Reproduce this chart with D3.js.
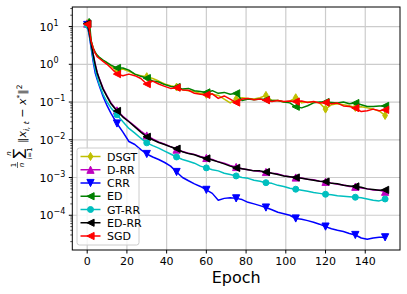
<!DOCTYPE html>
<html>
<head>
<meta charset="utf-8">
<script src="https://cdn.jsdelivr.net/npm/d3@7"></script>
<style>
  body { margin: 0; background: #fff; }
  svg { font-family: "DejaVu Sans", sans-serif; }
</style>
</head>
<body>
<svg id="chart" width="407" height="294"></svg>
<script>
var epochs = [0, 1, 2, 3, 4, 5, 6, 8, 10, 12, 15, 18, 21, 24, 27, 30, 33, 36, 39, 42, 45, 48, 51, 54, 57, 60,
  63, 66, 69, 72, 75, 78, 81, 84, 87, 90, 93, 96, 99, 102, 105, 108, 111, 114, 117, 120, 123, 126, 129, 132,
  135, 138, 141, 144, 147, 150];
var markerEpochs = [0, 15, 30, 45, 60, 75, 90, 105, 120, 135, 150];

var dsgt = [12, 9, 4, 2.6, 2.0, 1.7, 1.5, 1.25, 1.1, 0.9, 0.7, 0.75, 0.65, 0.55, 0.5, 0.47, 0.42, 0.36, 0.3, 0.27,
  0.25, 0.21, 0.2, 0.19, 0.17, 0.16, 0.16, 0.15, 0.12, 0.095, 0.12, 0.13, 0.125, 0.12, 0.13, 0.15, 0.11, 0.11,
  0.1, 0.105, 0.13, 0.095, 0.1, 0.1, 0.095, 0.065, 0.085, 0.09, 0.085, 0.08, 0.072, 0.075, 0.07, 0.065, 0.058, 0.044];
var drr = [12, 7.2, 3.6, 1.85, 1.02, 0.62, 0.43, 0.23, 0.145, 0.095, 0.06, 0.042, 0.031, 0.023, 0.017, 0.013,
  0.0105, 0.0088, 0.0076, 0.0066, 0.0055, 0.0049, 0.0044, 0.0041, 0.0036, 0.0033, 0.003, 0.0026, 0.0024, 0.0021,
  0.0019, 0.0017, 0.0016, 0.0015, 0.00145, 0.0014, 0.0013, 0.00125, 0.00112, 0.00105, 0.001, 0.00097, 0.0009,
  0.00087, 0.0008, 0.00077, 0.00071, 0.00066, 0.00063, 0.00058, 0.00057, 0.00053, 0.0005, 0.00047, 0.00046, 0.00042];
var crr = [11, 6, 2.7, 1.2, 0.6, 0.4, 0.28, 0.14, 0.08, 0.05, 0.027, 0.016, 0.009, 0.0075, 0.0055, 0.0042,
  0.0035, 0.003, 0.0025, 0.002, 0.0014, 0.001, 0.00082, 0.00068, 0.00058, 0.00047, 0.00038, 0.00025, 0.00028,
  0.00029, 0.00028, 0.00026, 0.00022, 0.0002, 0.00018, 0.00016, 0.00014, 0.00012, 0.00011, 0.0001, 8.2e-5,
  7.8e-5, 7.2e-5, 6.5e-5, 5.8e-5, 5e-5, 4.4e-5, 4.0e-5, 3.7e-5, 3.3e-5, 3.0e-5, 2.5e-5, 2.3e-5, 2.5e-5, 2.6e-5, 2.6e-5];
var ed = [12, 16, 4.2, 2.7, 2.1, 1.75, 1.55, 1.3, 1.1, 0.95, 0.8, 0.8, 0.7, 0.55, 0.48, 0.43, 0.36, 0.34, 0.29,
  0.26, 0.25, 0.22, 0.23, 0.2, 0.19, 0.18, 0.2, 0.17, 0.18, 0.16, 0.17, 0.11, 0.12, 0.115, 0.12, 0.115, 0.11,
  0.11, 0.1, 0.095, 0.075, 0.07, 0.08, 0.095, 0.1, 0.1, 0.097, 0.094, 0.1, 0.09, 0.094, 0.085, 0.076, 0.076, 0.079, 0.079];
var gtrr = [11, 6.5, 3.0, 1.4, 0.75, 0.45, 0.3, 0.16, 0.1, 0.07, 0.046, 0.03, 0.02, 0.015, 0.011, 0.0083, 0.007,
  0.006, 0.005, 0.0042, 0.0035, 0.003, 0.0027, 0.0024, 0.002, 0.0018, 0.0016, 0.0015, 0.0013, 0.0012, 0.0011,
  0.001, 0.00095, 0.00085, 0.0008, 0.00073, 0.0007, 0.00062, 0.00058, 0.00052, 0.00049, 0.00046, 0.00043, 0.0004,
  0.00038, 0.00036, 0.00035, 0.00033, 0.00032, 0.00031, 0.0003, 0.00029, 0.00027, 0.00025, 0.00024, 0.00027];
var edrr = [12, 7, 3.5, 1.8, 1.0, 0.6, 0.42, 0.22, 0.14, 0.09, 0.058, 0.04, 0.03, 0.022, 0.016, 0.012, 0.01,
  0.0085, 0.0075, 0.0065, 0.0058, 0.0048, 0.0043, 0.004, 0.0035, 0.0032, 0.0029, 0.0026, 0.0023, 0.002, 0.0018,
  0.0017, 0.0016, 0.0015, 0.0015, 0.0014, 0.0013, 0.0012, 0.0011, 0.00105, 0.001, 0.00095, 0.0009, 0.00085, 0.0008,
  0.00078, 0.0007, 0.00068, 0.00062, 0.0006, 0.00058, 0.00055, 0.0005, 0.00048, 0.00046, 0.00047];
var sgd = [11.5, 9, 4, 2.7, 2.0, 1.6, 1.45, 1.2, 1.0, 0.8, 0.55, 0.5, 0.55, 0.5, 0.42, 0.3, 0.36, 0.3, 0.26,
  0.23, 0.24, 0.21, 0.205, 0.17, 0.16, 0.155, 0.165, 0.125, 0.145, 0.12, 0.097, 0.12, 0.125, 0.115, 0.12, 0.112,
  0.103, 0.11, 0.103, 0.107, 0.103, 0.107, 0.097, 0.103, 0.094, 0.097, 0.09, 0.094, 0.079, 0.076, 0.069, 0.056,
  0.059, 0.065, 0.059, 0.062];

var seriesNames = ["DSGT", "D-RR", "CRR", "ED", "GT-RR", "ED-RR", "SGD"];
var seriesValues = [dsgt, drr, crr, ed, gtrr, edrr, sgd];
var seriesColors = ["#bfbf00", "#bf00bf", "#0000ff", "#008000", "#00bfbf", "#000000", "#ff0000"];
var seriesMarkers = ["diamond", "up", "down", "left", "circle", "left", "left"];

var xTicks = [0, 20, 40, 60, 80, 100, 120, 140];
var yTickExps = [-4, -3, -2, -1, 0, 1];

var svg = d3.select("#chart");
var plotL = 72.3, plotR = 400, plotT = 7, plotB = 250;

var x = d3.scaleLinear().domain([-7.5, 157.5]).range([plotL, plotR]);
var y = d3.scaleLog().domain([1.2e-5, 33]).range([plotB, plotT]);

function markerPath(kind) {
    var s = 3.6;
    if (kind == "up") return "M0," + (-s) + "L" + s + "," + s + "L" + (-s) + "," + s + "Z";
    if (kind == "down") return "M0," + s + "L" + s + "," + (-s) + "L" + (-s) + "," + (-s) + "Z";
    if (kind == "left") return "M" + (-s) + ",0L" + s + "," + (-s) + "L" + s + "," + s + "Z";
    if (kind == "diamond") return "M0,-4L2.4,0L0,4L-2.4,0Z";
    return null;
}

function drawMarker(g, kind, color, cx, cy) {
    if (kind == "circle") {
        g.append("circle").attr("cx", cx).attr("cy", cy).attr("r", 3)
            .attr("fill", color).attr("stroke", color).attr("stroke-width", 1);
    } else {
        g.append("path").attr("d", markerPath(kind))
            .attr("transform", "translate(" + cx + "," + cy + ")")
            .attr("fill", color).attr("stroke", color).attr("stroke-width", 1);
    }
}

// grid
var grid = svg.append("g");
xTicks.forEach(function(t) {
    grid.append("line").attr("x1", x(t)).attr("x2", x(t)).attr("y1", plotT).attr("y2", plotB)
        .attr("stroke", "#cccccc").attr("stroke-width", 1.2);
});
yTickExps.forEach(function(e) {
    grid.append("line").attr("x1", plotL).attr("x2", plotR).attr("y1", y(Math.pow(10, e))).attr("y2", y(Math.pow(10, e)))
        .attr("stroke", "#cccccc").attr("stroke-width", 1.2);
});

// series
var plot = svg.append("g");
var line = d3.line()
    .x(function(d) { return x(d[0]); })
    .y(function(d) { return y(d[1]); });

seriesValues.forEach(function(vals, i) {
    var pts = epochs.map(function(e, j) { return [e, vals[j]]; });
    plot.append("path")
        .attr("d", line(pts))
        .attr("fill", "none")
        .attr("stroke", seriesColors[i])
        .attr("stroke-width", 1.5)
        .attr("stroke-linejoin", "round");
    var mg = plot.append("g");
    markerEpochs.forEach(function(me) {
        var j = epochs.indexOf(me);
        drawMarker(mg, seriesMarkers[i], seriesColors[i], x(me), y(vals[j]));
    });
});

// frame
svg.append("rect").attr("x", plotL).attr("y", plotT).attr("width", plotR - plotL).attr("height", plotB - plotT)
    .attr("fill", "none").attr("stroke", "#000").attr("stroke-width", 1);

// x ticks
var xAxis = svg.append("g");
xTicks.forEach(function(t) {
    xAxis.append("line").attr("x1", x(t)).attr("x2", x(t)).attr("y1", plotB).attr("y2", plotB + 3.5)
        .attr("stroke", "#000").attr("stroke-width", 1);
    xAxis.append("text").attr("x", x(t)).attr("y", plotB + 14.5).attr("text-anchor", "middle")
        .attr("font-size", "11px").text(t);
});

// y ticks
var yAxis = svg.append("g");
yTickExps.forEach(function(e) {
    var yy = y(Math.pow(10, e));
    yAxis.append("line").attr("x1", plotL - 3.5).attr("x2", plotL).attr("y1", yy).attr("y2", yy)
        .attr("stroke", "#000").attr("stroke-width", 1);
    var t = yAxis.append("text").attr("x", 39.5).attr("y", yy + 4).attr("font-size", "11px");
    t.append("tspan").text("10");
    t.append("tspan").attr("dy", -5).attr("font-size", "8px").text(e < 0 ? "\u2212" + (-e) : String(e));
});
for (var e = -5; e <= 1; e++) {
    for (var m = 2; m <= 9; m++) {
        var v = m * Math.pow(10, e);
        if (v < y.domain()[0] || v > y.domain()[1]) continue;
        yAxis.append("line").attr("x1", plotL - 2).attr("x2", plotL).attr("y1", y(v)).attr("y2", y(v))
            .attr("stroke", "#000").attr("stroke-width", 0.7);
    }
}

// x label
svg.append("text").attr("x", (plotL + plotR) / 2).attr("y", 283).attr("text-anchor", "middle")
    .attr("font-size", "16px").text("Epoch");

// y label (math)
var yl = svg.append("g").attr("transform", "translate(22,128) rotate(-90)");
yl.append("text").attr("x", -37).attr("y", -6).attr("text-anchor", "middle").attr("font-size", "7px").text("1");
yl.append("line").attr("x1", -40).attr("x2", -34).attr("y1", -4.5).attr("y2", -4.5).attr("stroke", "#000").attr("stroke-width", 0.6);
yl.append("text").attr("x", -37).attr("y", 1.5).attr("text-anchor", "middle").attr("font-size", "7px")
    .attr("font-style", "italic").text("n");
yl.append("text").attr("x", -25.5).attr("y", 1).attr("text-anchor", "middle").attr("font-size", "14px").text("\u2211");
yl.append("text").attr("x", -25.5).attr("y", -11).attr("text-anchor", "middle").attr("font-size", "7px")
    .attr("font-style", "italic").text("n");
yl.append("text").attr("x", -25.5).attr("y", 9.5).attr("text-anchor", "middle").attr("font-size", "7px").text("i=1");
var mt = yl.append("text").attr("x", -15).attr("y", 4).attr("font-size", "11px");
mt.append("tspan").text("\u2016");
mt.append("tspan").attr("font-style", "italic").text("x");
mt.append("tspan").attr("dy", 2.5).attr("font-size", "7.5px").attr("font-style", "italic").text("i, t");
mt.append("tspan").attr("dy", -2.5).text(" \u2212 ");
mt.append("tspan").attr("font-style", "italic").text("x");
mt.append("tspan").attr("dy", -4.5).attr("font-size", "7.5px").text("*");
mt.append("tspan").attr("dy", 4.5).text("\u2016");
mt.append("tspan").attr("dy", -4.5).attr("font-size", "7.5px").text("2");

// legend
var lg = svg.append("g");
lg.append("rect").attr("x", 77).attr("y", 148).attr("width", 62).attr("height", 97).attr("rx", 2.5)
    .attr("fill", "#fff").attr("fill-opacity", 0.8).attr("stroke", "#cccccc").attr("stroke-width", 1);
seriesNames.forEach(function(name, i) {
    var ly = 156.5 + i * 13.25;
    lg.append("line").attr("x1", 80.5).attr("x2", 100.5).attr("y1", ly).attr("y2", ly)
        .attr("stroke", seriesColors[i]).attr("stroke-width", 1.5);
    drawMarker(lg, seriesMarkers[i], seriesColors[i], 90.5, ly);
    lg.append("text").attr("x", 107).attr("y", ly + 4).attr("font-size", "11px").text(name);
});
</script>
</body>
</html>
